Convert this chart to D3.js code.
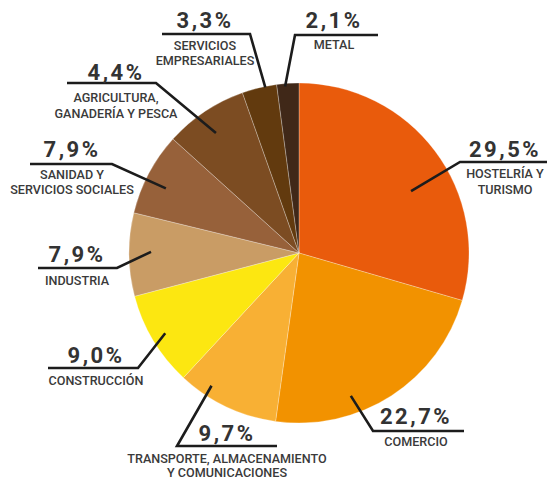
<!DOCTYPE html>
<html>
<head>
<meta charset="utf-8">
<script src="https://cdn.jsdelivr.net/npm/d3@7"></script>
<style>
  html, body { margin: 0; padding: 0; background: #fff; }
  svg { display: block; }
</style>
</head>
<body>
<div id="chart"></div>
<script>
// sectors, clockwise from 12 o'clock
const categories = [
    ['HOSTELRÍA Y', 'TURISMO'],
    ['COMERCIO'],
    ['TRANSPORTE, ALMACENAMIENTO', 'Y COMUNICACIONES'],
    ['CONSTRUCCIÓN'],
    ['INDUSTRIA'],
    ['SANIDAD Y', 'SERVICIOS SOCIALES'],
    ['AGRICULTURA,', 'GANADERÍA Y PESCA'],
    ['SERVICIOS', 'EMPRESARIALES'],
    ['METAL']
];
// printed percentages
const shares = [29.5, 22.7, 9.7, 9.0, 7.9, 7.9, 4.4, 3.3, 2.1];
// slice sizes as drawn in the picture (agriculture slice is drawn wider than its label)
const sliceShares = [29.5, 22.7, 9.7, 9.0, 7.9, 7.9, 7.9, 3.3, 2.1];
const colors = ['#e95b0c', '#f29200', '#f8b034', '#fce711', '#c99c65', '#97613a', '#7c4c22', '#623a0e', '#402818'];

// label placement: leader start (angle offset in deg, radius), elbow, far end x, text centre, baselines
const labelLayout = [
    { da: 8,  r: 128, elbow: [460, 162], endX: 547, cx: 505, pctY: 157, nameY: [178, 194] },
    { da: 13, r: 152, elbow: [373, 431], endX: 464, cx: 416, pctY: 424, nameY: [446] },
    { da: 8,  r: 159, elbow: [177, 446], endX: 277, cx: 227, pctY: 441, nameY: [463, 477] },
    { da: 0,  r: 156, elbow: [138, 368], endX: 48,  cx: 96,  pctY: 363, nameY: [385] },
    { da: 1,  r: 148, elbow: [117, 268], endX: 38,  cx: 77,  pctY: 262, nameY: [285] },
    { da: -2, r: 148, elbow: [112, 164], endX: 30,  cx: 72,  pctY: 157, nameY: [179, 194] },
    { da: -1, r: 146, elbow: [156, 83],  endX: 67,  cx: 116, pctY: 80,  nameY: [102, 118] },
    { da: 2,  r: 169, elbow: [250, 34],  endX: 162, cx: 205, pctY: 28,  nameY: [50, 65] },
    { da: -1, r: 167, elbow: [295, 35],  endX: 378, cx: 334, pctY: 28,  nameY: [49] }
];

const width = 547;
const height = 481;
const cx = 299;
const cy = 253;
const radius = 170;

const svg = d3.select('#chart').append('svg')
    .attr('width', width)
    .attr('height', height);

const pie = d3.pie().sort(null).value((d) => d);
const arcs = pie(sliceShares);
const arc = d3.arc().innerRadius(0).outerRadius(radius);

const pieGroup = svg.append('g').attr('transform', `translate(${cx},${cy})`);

pieGroup.selectAll('path')
    .data(arcs)
    .enter()
    .append('path')
    .attr('d', arc)
    .attr('fill', (d, i) => colors[i])
    .attr('stroke', '#fff')
    .attr('stroke-opacity', 0.45)
    .attr('stroke-width', 0.6);

const fmt = (v) => v.toFixed(1).replace('.', ',') + '%';

const labels = svg.append('g');

arcs.forEach((d, i) => {
    const lay = labelLayout[i];
    const mid = (d.startAngle + d.endAngle) / 2 + lay.da * Math.PI / 180;
    const [px, py] = d3.pointRadial(mid, lay.r);

    // leader line: inside slice -> elbow -> horizontal underline
    labels.append('path')
        .attr('d', d3.line()([[cx + px, cy + py], lay.elbow, [lay.endX, lay.elbow[1]]]))
        .attr('fill', 'none')
        .attr('stroke', '#1c1c1c')
        .attr('stroke-width', 2.6);

    labels.append('text')
        .attr('x', lay.cx)
        .attr('y', lay.pctY)
        .attr('text-anchor', 'middle')
        .attr('font-family', 'Roboto, sans-serif')
        .attr('font-weight', 700)
        .attr('font-size', 22)
        .attr('letter-spacing', 2.5)
        .attr('fill', '#333')
        .text(fmt(shares[i]));

    categories[i].forEach((line, j) => {
        labels.append('text')
            .attr('x', lay.cx)
            .attr('y', lay.nameY[j])
            .attr('text-anchor', 'middle')
            .attr('font-family', 'Roboto, sans-serif')
            .attr('font-weight', 500)
            .attr('font-size', 12.6)
            .attr('fill', '#3a3a3a')
            .text(line);
    });
});
</script>
</body>
</html>
